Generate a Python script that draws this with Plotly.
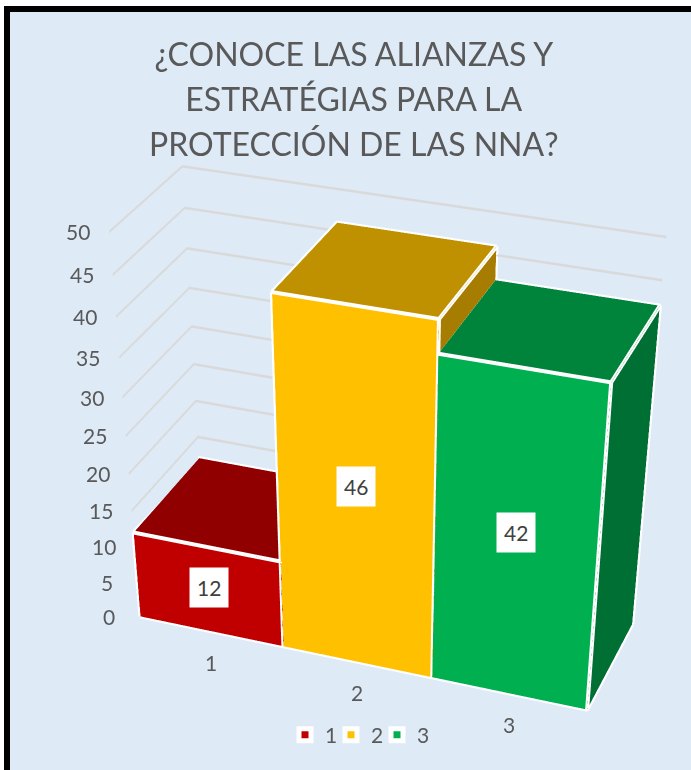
import plotly.graph_objects as go

categories = ["1", "2", "3"]
values = [12, 46, 42]
z_ticks = list(range(0, 55, 5))
title_lines = ["¿CONOCE LAS ALIANZAS Y", "ESTRATÉGIAS PARA LA", "PROTECCIÓN DE LAS NNA?"]
front = ["#C00000", "#FFC000", "#00B050"]
top = ["#900000", "#BF9000", "#00843C"]
side = ["#700000", "#A67D00", "#006F33"]

W, H = 691, 1862  # tall canvas gives the scene's fixed 45 degree lens the flat look of the original

def py(px):
    return 1 - px / H

fig = go.Figure()
for i, v in enumerate(values):
    c = i + 1
    x0, x1 = c - 0.5, c + 0.5
    X = [x0, x1, x1, x0, x0, x1, x1, x0]
    Y = [0, 0, 1, 1, 0, 0, 1, 1]
    Z = [0, 0, 0, 0, v, v, v, v]
    I = [0, 0, 4, 4, 1, 1]
    J = [1, 5, 5, 6, 2, 6]
    K = [5, 4, 6, 7, 6, 5]
    FC = [front[i]] * 2 + [top[i]] * 2 + [side[i]] * 2
    fig.add_trace(go.Mesh3d(x=X, y=Y, z=Z, i=I, j=J, k=K, facecolor=FC, flatshading=True,
                            lighting=dict(ambient=1, diffuse=0, specular=0, fresnel=0, roughness=1),
                            hoverinfo="skip", showlegend=False))
    ex = [x0, x1, x1, x0, x0, None, x0, x1, x1, None, x0, x0, None, x1, x1, None, x1, x1]
    ey = [0, 0, 1, 1, 0, None, 0, 0, 1, None, 0, 0, None, 0, 0, None, 1, 1]
    ez = [v, v, v, v, v, None, 0, 0, 0, None, 0, v, None, 0, v, None, 0, v]
    fig.add_trace(go.Scatter3d(x=ex, y=ey, z=ez, mode="lines", line=dict(color="white", width=8),
                               hoverinfo="skip", showlegend=False))
    fig.add_trace(go.Scatter3d(x=[None], y=[None], z=[None], mode="markers", name=categories[i],
                               marker=dict(symbol="square", size=12, color=front[i], line=dict(color="white", width=5))))
# empty entry: keeps the narrow legend from clipping the last label
fig.add_trace(go.Scatter3d(x=[None], y=[None], z=[None], mode="markers", name="\u00a0",
                           marker=dict(symbol="square", size=1, color="rgba(0,0,0,0)")))

cam = dict(eye=dict(x=1.8419, y=-4.9745, z=2.8529), center=dict(x=0.3248, y=-1.1488, z=-0.6752),
           up=dict(x=-0.4989, y=1.3144, z=1))
tick_font = dict(family="Lato", size=21, color="#595959")
hidden = dict(showgrid=False, zeroline=False, showbackground=False, showline=False, showspikes=False, title="",
              showticklabels=False, ticks="")
title_html = "<br>".join(f'<span style="font-size:32px">{t}</span>' for t in title_lines)
data_labels = [dict(x=k + 1, y=0, z=v * 0.52, text=str(v), showarrow=False, bgcolor="white",
                    font=dict(family="Lato", size=21, color="#404040"), borderpad=7)
               for k, v in enumerate(values)]
z_labels = [dict(x=0.5, y=0, z=t, text=str(t), showarrow=False, xshift=-31, font=tick_font) for t in z_ticks]
x_labels = [dict(x=k + 1, y=0, z=0, text=c, showarrow=False, yshift=-31, font=tick_font)
            for k, c in enumerate(categories)]
fig.update_layout(
    width=W, height=H, margin=dict(l=0, r=0, t=0, b=0), paper_bgcolor="white",
    title=dict(text=title_html, x=0.512, xanchor="center", y=py(66), yanchor="top",
               font=dict(family="Lato", size=34.6, color="#595959")),
    shapes=[dict(type="rect", xref="paper", yref="paper", x0=4 / W, x1=1, y0=0, y1=py(6), fillcolor="black", line_width=0, layer="below"),
            dict(type="rect", xref="paper", yref="paper", x0=10 / W, x1=1, y0=0, y1=py(12), fillcolor="#DEEAF6", line_width=0, layer="below")],
    legend=dict(orientation="h", x=285 / W, xanchor="left", y=py(735), yanchor="middle", entrywidth=1,
                font=dict(family="Lato", size=21, color="#595959"), bgcolor="rgba(0,0,0,0)"),
    scene=dict(domain=dict(x=[0, 1], y=[0, 1]), aspectmode="manual",
               aspectratio=dict(x=1.2963, y=0.4379, z=1.1161), camera=cam, bgcolor="rgba(0,0,0,0)",
               xaxis=dict(hidden, range=[0.5, 3.502]),
               yaxis=dict(hidden, range=[0, 1]),
               zaxis=dict(hidden, range=[0, 50], tickvals=z_ticks, showgrid=True, gridcolor="#D9D9D9", gridwidth=5),
               annotations=data_labels + z_labels + x_labels))
fig.write_html("out.html", config=dict(displayModeBar=False),
               post_script="document.body.style.margin='0';document.documentElement.style.overflow='hidden';document.body.style.overflow='hidden';")
